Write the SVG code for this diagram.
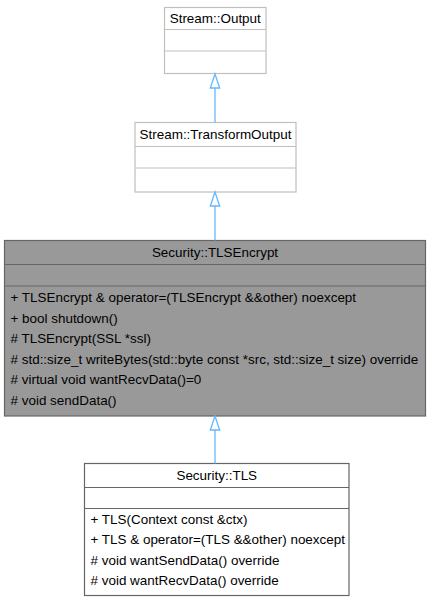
<svg xmlns="http://www.w3.org/2000/svg" width="431" height="603" viewBox="0 0 431 603">
<style>
text{font-family:"Liberation Sans",Arial,Helvetica,sans-serif;font-size:13.45px;fill:#000}
.t{text-anchor:middle}
.light{fill:#fff;stroke:#bfbfbf;stroke-width:1.2}
.cur{fill:#999999;stroke:#666666;stroke-width:1.2}
.dark{fill:#fff;stroke:#666666;stroke-width:1.2}
.sepL{stroke:#bfbfbf;stroke-width:1.2}
.sepD{stroke:#666666;stroke-width:1.2}
.edge{stroke:#63b8ff;stroke-width:1.3;fill:none}
.head{fill:#fff;stroke:#63b8ff;stroke-width:1.3}
</style>
<rect width="431" height="603" fill="#fff"/>
<g id="node-output">
<rect class="light" x="164.5" y="7.5" width="101.5" height="66"/>
<line class="sepL" x1="164.5" y1="29.5" x2="266" y2="29.5"/>
<line class="sepL" x1="164.5" y1="51" x2="266" y2="51"/>
<text class="t" x="215.25" y="23.3">Stream::Output</text>
</g>
<g id="node-transformoutput">
<rect class="light" x="135" y="122.5" width="161" height="69.5"/>
<line class="sepL" x1="135" y1="146.5" x2="296" y2="146.5"/>
<line class="sepL" x1="135" y1="168" x2="296" y2="168"/>
<text class="t" x="215.5" y="139.3">Stream::TransformOutput</text>
</g>
<g id="node-tlsencrypt">
<rect class="cur" x="4.5" y="240.5" width="421" height="175.5"/>
<line class="sepD" x1="4.5" y1="264.5" x2="425.5" y2="264.5"/>
<line class="sepD" x1="4.5" y1="286" x2="425.5" y2="286"/>
<text class="t" x="215" y="257.3">Security::TLSEncrypt</text>
<text x="10.5" y="302">+ TLSEncrypt &amp; operator=(TLSEncrypt &amp;&amp;other) noexcept</text>
<text x="10.5" y="322.5">+ bool shutdown()</text>
<text x="10.5" y="343"># TLSEncrypt(SSL *ssl)</text>
<text x="10.5" y="363.5"># std::size_t writeBytes(std::byte const *src, std::size_t size) override</text>
<text x="10.5" y="384"># virtual void wantRecvData()=0</text>
<text x="10.5" y="404.5"># void sendData()</text>
</g>
<g id="node-tls">
<rect class="dark" x="84.5" y="463.5" width="264.5" height="132"/>
<line class="sepD" x1="84.5" y1="487.5" x2="349" y2="487.5"/>
<line class="sepD" x1="84.5" y1="508.5" x2="349" y2="508.5"/>
<text class="t" x="216.75" y="480.3">Security::TLS</text>
<text x="90.5" y="523.5">+ TLS(Context const &amp;ctx)</text>
<text x="90.5" y="544">+ TLS &amp; operator=(TLS &amp;&amp;other) noexcept</text>
<text x="90.5" y="564.5"># void wantSendData() override</text>
<text x="90.5" y="585"># void wantRecvData() override</text>
</g>
<g id="connectors">
<line class="edge" x1="215" y1="88" x2="215" y2="122.5"/>
<polygon class="head" points="215,74 210.3,88 219.7,88"/>
<line class="edge" x1="215" y1="206" x2="215" y2="240.5"/>
<polygon class="head" points="215,192 210.3,206 219.7,206"/>
<line class="edge" x1="215" y1="430" x2="215" y2="463.5"/>
<polygon class="head" points="215,416 210.3,430 219.7,430"/>
</g>
</svg>
